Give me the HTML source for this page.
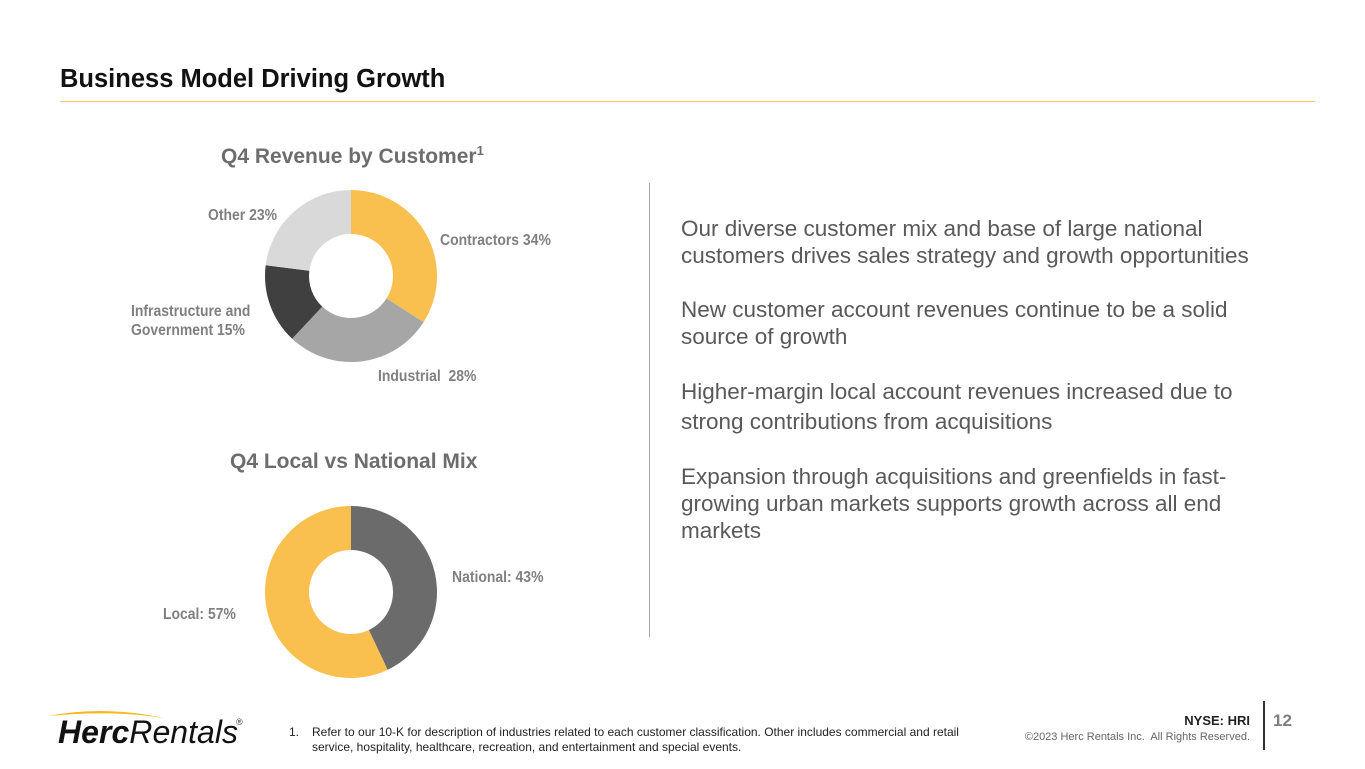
<!DOCTYPE html>
<html><head><meta charset="utf-8">
<style>
body{margin:0;width:1365px;height:769px;background:#fff;position:relative;overflow:hidden;font-family:"Liberation Sans",sans-serif}
.abs{position:absolute}
.lbl{position:absolute;font-family:"Liberation Sans Narrow","Liberation Sans",sans-serif;font-weight:bold;color:#808080;font-size:15.5px;line-height:19px;white-space:nowrap;transform:scaleX(0.9);transform-origin:left top}
.body p{margin:0;white-space:nowrap}
</style></head><body>
<div class="abs" style="left:60px;top:65px;font-size:25.5px;font-weight:bold;color:#111">Business Model Driving Growth</div>
<div class="abs" style="left:60px;top:101px;width:1255px;height:1px;background:#f7c55a"></div>

<div class="abs" style="left:221px;top:143px;font-size:21px;font-weight:bold;color:#6d6d6d">Q4 Revenue by Customer<sup style="font-size:13px">1</sup></div>
<div class="abs" style="left:230px;top:450px;font-size:21px;font-weight:bold;color:#6d6d6d">Q4 Local vs National Mix</div>

<svg class="abs" style="left:0;top:0" width="700" height="769">
<g id="d1"></g><g id="d2"></g>
</svg>

<div class="lbl" style="left:208px;top:206px">Other 23%</div>
<div class="lbl" style="left:440px;top:231px">Contractors 34%</div>
<div class="lbl" style="left:131px;top:302px">Infrastructure and<br>Government 15%</div>
<div class="lbl" style="left:378px;top:367px">Industrial&nbsp; 28%</div>
<div class="lbl" style="left:452px;top:568px">National: 43%</div>
<div class="lbl" style="left:163px;top:605px">Local: 57%</div>

<div class="abs" style="left:649px;top:183px;width:1px;height:454px;background:#a6a6a6"></div>

<div class="abs body" style="left:681px;top:215px;width:600px;font-size:22.5px;line-height:27px;color:#595959">
<p>Our diverse customer mix and base of large national<br>customers drives sales strategy and growth opportunities</p>
<p style="margin-top:27px">New customer account revenues continue to be a solid<br>source of growth</p>
<p style="margin-top:27px;line-height:30px">Higher-margin local account revenues increased due to<br>strong contributions from acquisitions</p>
<p style="margin-top:26px">Expansion through acquisitions and greenfields in fast-<br>growing urban markets supports growth across all end<br>markets</p>
</div>

<svg class="abs" style="left:44px;top:706px" width="220" height="44">
<path d="M4 10 Q60 -1 120 12 Q70 4 4 10Z" fill="#f6b820"/>
<text x="14" y="37" font-family="Liberation Sans" font-size="32" font-style="italic" fill="#111" textLength="180"><tspan font-weight="bold">Herc</tspan>Rentals</text>
<text x="192" y="19" font-family="Liberation Sans" font-size="9" fill="#333">®</text>
</svg>

<div class="abs" style="left:289px;top:725px;font-size:12px;line-height:15px;color:#222;width:725px">
<span style="position:absolute;left:0">1.</span><div style="margin-left:23px">Refer to our 10-K for description of industries related to each customer classification. Other includes commercial and retail<br>service, hospitality, healthcare, recreation, and entertainment and special events.</div></div>
<div class="abs" style="right:115px;top:713px;font-size:13px;font-weight:bold;color:#222">NYSE: HRI</div>
<div class="abs" style="right:115px;top:731px;font-size:11px;color:#666">©2023 Herc Rentals Inc.&nbsp; All Rights Reserved.</div>
<div class="abs" style="left:1263px;top:701px;width:2px;height:49px;background:#333"></div>
<div class="abs" style="left:1273px;top:711px;font-size:17px;font-weight:bold;color:#7f7f7f">12</div>

<script>
const customerCategories=["Contractors","Industrial","Infrastructure and Government","Other"];
const customerValues=[34,28,15,23];
const customerColors=["#f9c04f","#a6a6a6","#404040","#d9d9d9"];
const mixCategories=["National","Local"];
const mixValues=[43,57];
const mixColors=["#6b6b6b","#f9c04f"];
function donut(g,cats,vals,cols,cx,cy,R,r){
  const tot=vals.reduce((a,b)=>a+b,0);let a0=0;
  const ns="http://www.w3.org/2000/svg";
  vals.forEach((v,i)=>{
    const a1=a0+v/tot*2*Math.PI;
    const p=(ang,rad)=>[cx+rad*Math.sin(ang),cy-rad*Math.cos(ang)];
    const [x1,y1]=p(a0,R),[x2,y2]=p(a1,R),[x3,y3]=p(a1,r),[x4,y4]=p(a0,r);
    const lg=(a1-a0)>Math.PI?1:0;
    const el=document.createElementNS(ns,"path");
    el.setAttribute("d",`M${x1} ${y1}A${R} ${R} 0 ${lg} 1 ${x2} ${y2}L${x3} ${y3}A${r} ${r} 0 ${lg} 0 ${x4} ${y4}Z`);
    el.setAttribute("fill",cols[i]);
    
    
    g.appendChild(el);a0=a1;
  });
}
donut(document.getElementById("d1"),customerCategories,customerValues,customerColors,351,276,86,42);
donut(document.getElementById("d2"),mixCategories,mixValues,mixColors,351,592,86,42);
</script>
</body></html>
